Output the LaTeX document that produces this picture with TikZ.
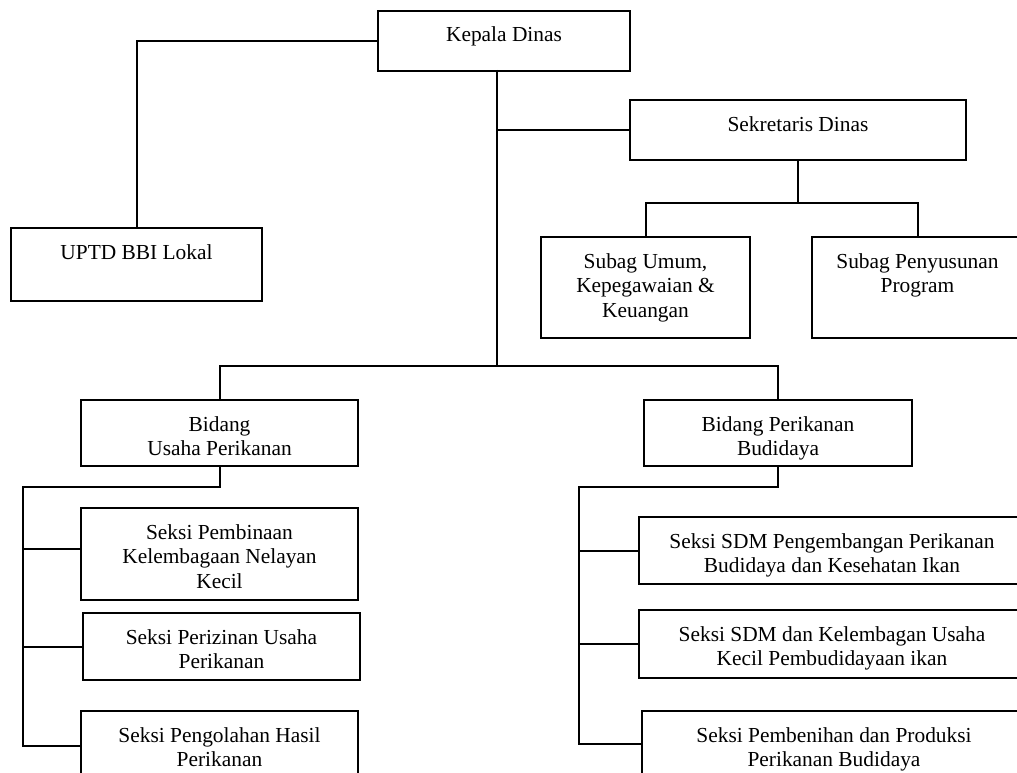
\documentclass[tikz,border=0pt]{standalone}
\usepackage{fontspec}
\setmainfont{Liberation Serif}
\usetikzlibrary{calc}
\newcommand{\bxt}[3]{\parbox[c][#2][t]{#1}{\centering\fontsize{21.4pt}{24.5pt}\selectfont\rule{0pt}{31pt}#3}}
\begin{document}
\begin{tikzpicture}[x=1pt,y=-1pt,
  box/.style={draw, line width=2pt, inner sep=0pt, anchor=north west},
  conn/.style={line width=2pt}]
\useasboundingbox (0,0) rectangle (1017,773);
\clip (0,0) rectangle (1017,773);
% boxes
\node[box] (kd) at (377,10)  {\bxt{252pt}{60pt}{Kepala Dinas}};
\node[box] (up) at (10,227)  {\bxt{251pt}{73pt}{UPTD BBI Lokal}};
\node[box] (sd) at (629,99)  {\bxt{336pt}{60pt}{Sekretaris Dinas}};
\node[box] (su) at (540,236) {\bxt{209pt}{101pt}{Subag Umum,\\Kepegawaian \&\\Keuangan}};
\node[box] (sp) at (811,236) {\bxt{211pt}{101pt}{Subag Penyusunan\\Program}};
\node[box] (bu) at (80,399)  {\bxt{277pt}{66pt}{Bidang\\Usaha Perikanan}};
\node[box] (bb) at (643,399) {\bxt{268pt}{66pt}{Bidang Perikanan\\Budidaya}};
\node[box] (k1) at (80,507)  {\bxt{277pt}{92pt}{Seksi Pembinaan\\Kelembagaan Nelayan\\Kecil}};
\node[box] (k2) at (82,612)  {\bxt{277pt}{67pt}{Seksi Perizinan Usaha\\Perikanan}};
\node[box] (k3) at (80,710)  {\bxt{277pt}{90pt}{Seksi Pengolahan Hasil\\Perikanan}};
\node[box] (b1) at (638,516) {\bxt{386pt}{67pt}{Seksi SDM Pengembangan Perikanan\\Budidaya dan Kesehatan Ikan}};
\node[box] (b2) at (638,609) {\bxt{386pt}{68pt}{Seksi SDM dan Kelembagan Usaha\\Kecil Pembudidayaan ikan}};
\node[box] (b3) at (641,710) {\bxt{384pt}{90pt}{Seksi Pembenihan dan Produksi\\Perikanan Budidaya}};
% connectors
\coordinate (t0) at (497,70);
\coordinate (t1) at (497,366);
\draw[conn] (kd.west) -| (up.north);
\draw[conn] (t0) -- (t1);
\draw[conn] (sd.west) -- (sd.west -| t0);
\coordinate (s1) at (sd.south |- 0,203);
\draw[conn] (sd.south) -- (s1);
\draw[conn] (su.north) |- (s1) -| (sp.north);
\draw[conn] (bu.north) |- (t1) -| (bb.north);
% left branch
\coordinate (l0) at (23,487);
\coordinate (l3) at (23,746);
\draw[conn] (bu.south) |- (l0) -- (l3) -- (l3 -| k3.west);
\draw[conn] ($(k1.west)+(0,-5)$) -- ($(k1.west -| l0)+(0,-5)$);
\draw[conn] (k2.west) -- (k2.west -| l0);
% right branch
\coordinate (r0) at (579,487);
\coordinate (r3) at (579,744);
\draw[conn] (bb.south) |- (r0) -- (r3) -- (r3 -| b3.west);
\draw[conn] (b1.west) -- (b1.west -| r0);
\draw[conn] (b2.west) -- (b2.west -| r0);
\end{tikzpicture}
\end{document}
